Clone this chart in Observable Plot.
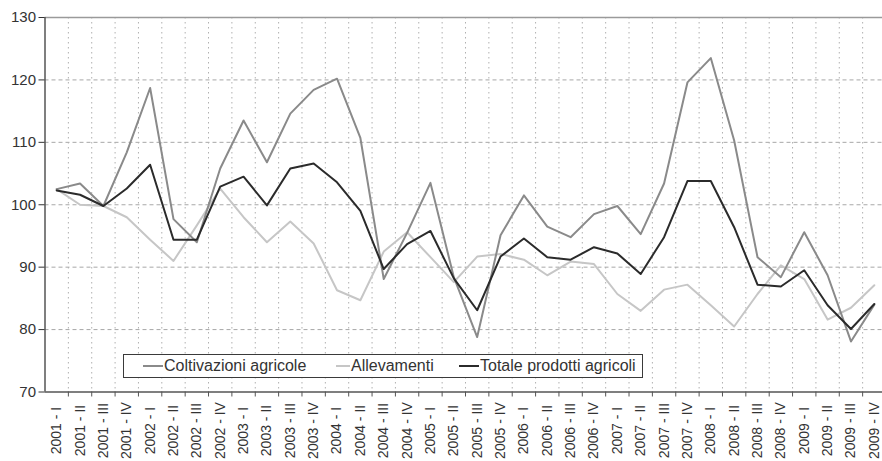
<!DOCTYPE html>
<html>
<head>
<meta charset="utf-8">
<script src="https://cdn.jsdelivr.net/npm/d3@7"></script>
<script src="https://cdn.jsdelivr.net/npm/@observablehq/plot@0.6"></script>
<style>
  html, body { margin: 0; padding: 0; background: #fff; }
  #wrap { position: relative; width: 882px; height: 461px; overflow: hidden; font-family: "Liberation Sans", Arial, sans-serif; }
  #wrap svg { display: block; }
  #legend { position: absolute; left: 123px; top: 354px; width: 518px; height: 22px; border: 1.5px solid #3a3a3a; background: #fff; }
  .item { position: absolute; top: 0; height: 22px; display: flex; align-items: center; font-size: 16px; color: #333; white-space: nowrap; }
  .sw { display: inline-block; height: 2px; margin-right: 1px; }
</style>
</head>
<body>
<div id="wrap"></div>
<script>
const years = [2001, 2002, 2003, 2004, 2005, 2006, 2007, 2008, 2009];
const quarters = ["I", "II", "III", "IV"];
const labels = years.flatMap(y => quarters.map(q => `${y} - ${q}`));

const seriesNames = ["Coltivazioni agricole", "Allevamenti", "Totale prodotti agricoli"];
const seriesColors = ["#8a8a8a", "#c6c6c6", "#2b2b2b"];

const coltivazioni = [102.5, 103.4, 99.8, 108.4, 118.7, 97.7, 94.0, 105.8, 113.5, 106.8, 114.6, 118.4,
  120.2, 110.7, 88.1, 95.5, 103.5, 88.4, 78.8, 95.1, 101.5, 96.5, 94.8, 98.5,
  99.8, 95.3, 103.4, 119.6, 123.5, 110.3, 91.6, 88.4, 95.6, 88.7, 78.1, 84.0];
const allevamenti = [102.5, 100.0, 99.8, 98.0, 94.4, 91.0, 96.7, 102.6, 98.0, 94.0, 97.3, 93.8,
  86.3, 84.7, 92.5, 95.6, 91.6, 87.6, 91.7, 92.1, 91.2, 88.7, 90.9, 90.5,
  85.7, 83.0, 86.4, 87.2, 83.9, 80.5, 85.7, 90.3, 88.1, 81.6, 83.5, 87.1];
const totale = [102.3, 101.6, 99.8, 102.6, 106.4, 94.4, 94.4, 102.9, 104.5, 99.9, 105.8, 106.6,
  103.6, 99.0, 89.7, 93.7, 95.8, 88.2, 83.1, 91.7, 94.6, 91.6, 91.2, 93.2,
  92.2, 88.9, 94.8, 103.8, 103.8, 96.4, 87.2, 86.9, 89.5, 83.9, 80.1, 84.1];

const yTicks = [70, 80, 90, 100, 110, 120, 130];
const yGrid = [80, 90, 100, 110, 120];

const boundaries = labels.map((d, i) => i + 0.5);

const chart = Plot.plot({
  width: 882,
  height: 461,
  marginLeft: 44.5,
  marginTop: 17,
  marginBottom: 69.5,
  marginRight: 0,
  x: { type: "linear", domain: [-0.5, labels.length - 0.5], range: [44.5, 885.5], axis: null },
  y: { domain: [70, 130], axis: null },
  style: { fontFamily: "'Liberation Sans', Arial, sans-serif", background: "#fff", overflow: "hidden" },
  marks: [
    Plot.gridY(yGrid, { stroke: "#a8a8a8", strokeOpacity: 1, strokeDasharray: "4,3" }),
    Plot.gridX(boundaries, { stroke: "#b0b0b0", strokeOpacity: 1, strokeDasharray: "1.5,3.5" }),
    Plot.ruleY([130], { stroke: "#9a9a9a", strokeWidth: 1.5 }),
    Plot.line(allevamenti, { x: (d, i) => i, y: d => d, stroke: seriesColors[1], strokeWidth: 2 }),
    Plot.line(coltivazioni, { x: (d, i) => i, y: d => d, stroke: seriesColors[0], strokeWidth: 2 }),
    Plot.line(totale, { x: (d, i) => i, y: d => d, stroke: seriesColors[2], strokeWidth: 2 }),
    Plot.ruleX([-0.5], { stroke: "#555", strokeWidth: 1.5 }),
    Plot.ruleY([70], { stroke: "#555", strokeWidth: 1.5 }),
    Plot.axisY({ ticks: yTicks, tickSize: 6, tickPadding: 3, fontSize: 15, color: "#333", tickFormat: d => d }),
    Plot.axisX({ ticks: boundaries, tickFormat: () => "", tickSize: 5, color: "#555" }),
    Plot.text(labels, {
      x: (d, i) => i, text: d => d, frameAnchor: "bottom", rotate: -90, dy: 38.5,
      textAnchor: "middle", lineAnchor: "middle", fontSize: 14, fill: "#333"
    })
  ]
});

const wrap = document.getElementById("wrap");
wrap.appendChild(chart);

const legend = document.createElement("div");
legend.id = "legend";
const lefts = [19, 212, 335];
const swWidths = [20, 14, 20];
seriesNames.forEach((name, i) => {
  const item = document.createElement("div");
  item.className = "item";
  item.style.left = lefts[i] + "px";
  const sw = document.createElement("span");
  sw.className = "sw";
  sw.style.width = swWidths[i] + "px";
  sw.style.background = seriesColors[i];
  item.appendChild(sw);
  const t = document.createElement("span");
  t.textContent = name;
  item.appendChild(t);
  legend.appendChild(item);
});
wrap.appendChild(legend);
</script>
</body>
</html>
